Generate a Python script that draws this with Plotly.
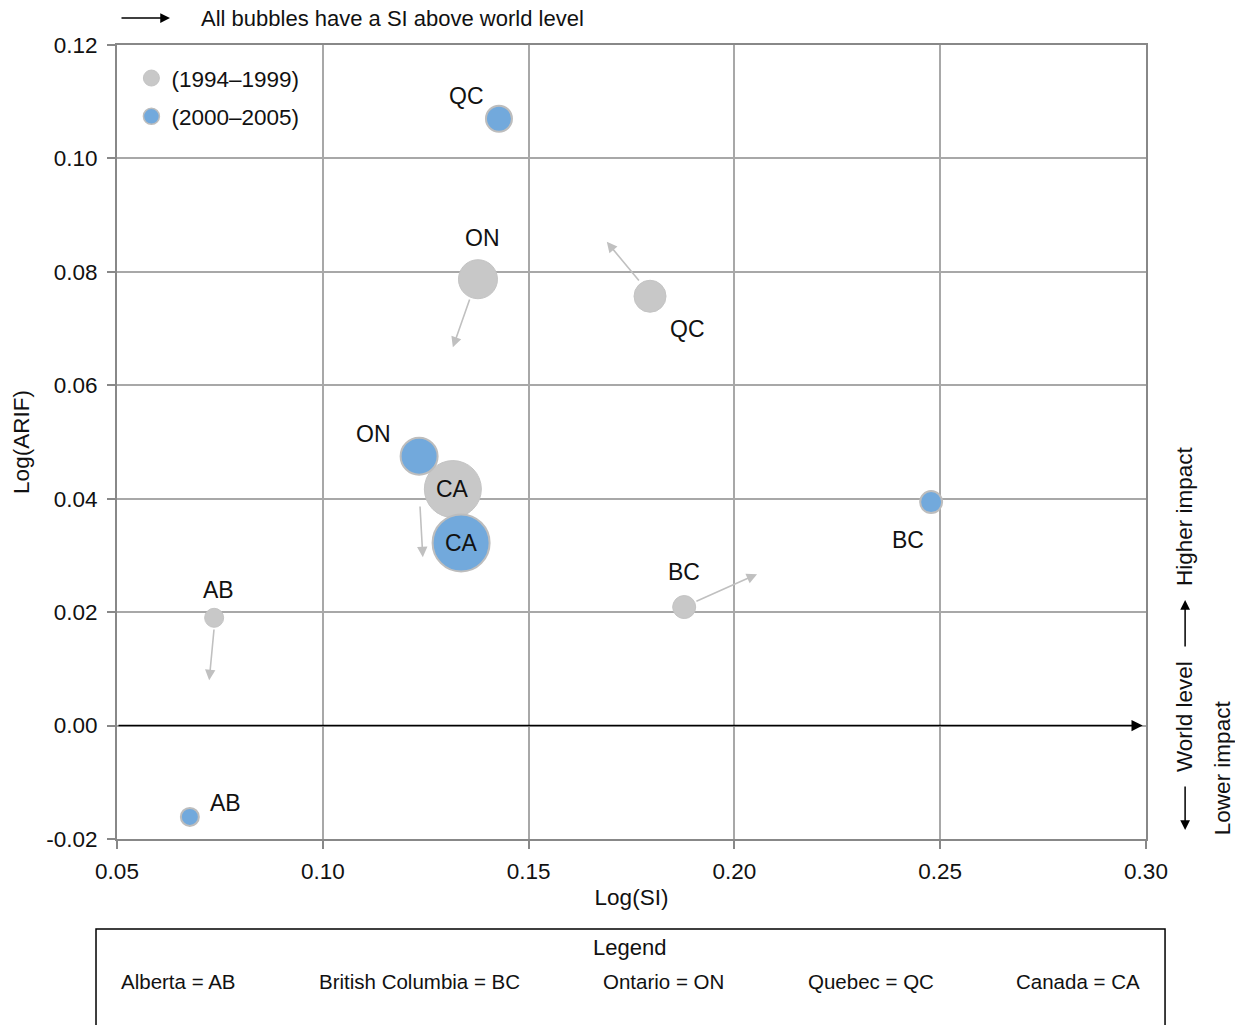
import plotly.graph_objects as go

# ---- data ----
regions = ["AB", "BC", "ON", "QC", "CA"]
si_9499 = [0.0736, 0.1878, 0.1377, 0.1795, 0.1316]
arif_9499 = [0.0190, 0.0209, 0.0787, 0.0757, 0.0417]
size_9499 = [19, 23, 39, 32, 57]

si_0005 = [0.0677, 0.2478, 0.1234, 0.1428, 0.1336]
arif_0005 = [-0.0161, 0.0394, 0.0475, 0.1070, 0.0322]
size_0005 = [18, 22, 37, 26, 57]

# trend arrows (tail -> head) for each region
arrow_tail_x = [0.0736, 0.1904, 0.1358, 0.1771, 0.1236]
arrow_tail_y = [0.0172, 0.0218, 0.0754, 0.0782, 0.0389]
arrow_head_x = [0.0724, 0.2055, 0.1316, 0.1690, 0.1243]
arrow_head_y = [0.0080, 0.0267, 0.0667, 0.0853, 0.0297]

x_ticks = [0.05, 0.10, 0.15, 0.20, 0.25, 0.30]
x_tick_labels = ["0.05", "0.10", "0.15", "0.20", "0.25", "0.30"]
y_ticks = [-0.02, 0.00, 0.02, 0.04, 0.06, 0.08, 0.10, 0.12]
y_tick_labels = ["-0.02", "0.00", "0.02", "0.04", "0.06", "0.08", "0.10", "0.12"]

legend_entries = ["Alberta = AB", "British Columbia = BC", "Ontario = ON",
                  "Quebec = QC", "Canada = CA"]

# label offsets (pixels) relative to bubble centers  (style)
off_9499 = {"AB": (4, 28), "BC": (0, 35), "ON": (5, 41), "QC": (37, -33), "CA": (0, 0)}
off_0005 = {"AB": (36, 14), "BC": (-23, -38), "ON": (-46, 22), "QC": (-32, 23), "CA": (0, 0)}

FONT = "Arial, Liberation Sans, sans-serif"
GRAY = "#c8c8c8"
BLUE = "#72a9dc"
GRID = "#a8a8a8"
TXT = "#111"

fig = go.Figure()

fig.add_trace(go.Scatter(
    x=si_9499, y=arif_9499, mode="markers", name="(1994–1999)", showlegend=False,
    marker=dict(size=size_9499, sizemode="diameter", color=GRAY,
                line=dict(color="#c4c4c4", width=1), opacity=1),
    hoverinfo="skip"))
fig.add_trace(go.Scatter(
    x=si_0005, y=arif_0005, mode="markers", name="(2000–2005)", showlegend=False,
    marker=dict(size=size_0005, sizemode="diameter", color=BLUE,
                line=dict(color="#bdbdbd", width=2), opacity=1),
    hoverinfo="skip"))
# legend-only entries (fixed symbol size)
fig.add_trace(go.Scatter(x=[None], y=[None], mode="markers", name="(1994–1999)",
                         legendgroup="a",
                         marker=dict(size=16, color=GRAY, line=dict(color="#c4c4c4", width=1))))
fig.add_trace(go.Scatter(x=[None], y=[None], mode="markers", name="(2000–2005)",
                         legendgroup="b",
                         marker=dict(size=16, color=BLUE, line=dict(color="#bdbdbd", width=1.5))))

ann = []
# region labels
for r, x, y in zip(regions, si_9499, arif_9499):
    dx, dy = off_9499[r]
    ann.append(dict(x=x, y=y, xref="x", yref="y", text=r, showarrow=False,
                    xanchor="center", yanchor="middle",
                    xshift=dx, yshift=dy, font=dict(size=23, color=TXT)))
for r, x, y in zip(regions, si_0005, arif_0005):
    dx, dy = off_0005[r]
    ann.append(dict(x=x, y=y, xref="x", yref="y", text=r, showarrow=False,
                    xanchor="center", yanchor="middle",
                    xshift=dx, yshift=dy, font=dict(size=23, color=TXT)))

# trend arrows
for tx, ty, hx, hy in zip(arrow_tail_x, arrow_tail_y, arrow_head_x, arrow_head_y):
    ann.append(dict(x=hx, y=hy, ax=tx, ay=ty, xref="x", yref="y", axref="x", ayref="y",
                    text="", showarrow=True, arrowhead=2, arrowsize=1.3,
                    arrowwidth=1.6, arrowcolor="#c0c0c0"))

# zero (world level) arrow along x axis
ann.append(dict(x=x_ticks[-1] - 0.0008, y=0, ax=x_ticks[0], ay=0, xref="x", yref="y",
                axref="x", ayref="y", text="", showarrow=True, arrowhead=2,
                arrowsize=1.4, arrowwidth=1.6, arrowcolor="#000"))

# top note
ann.append(dict(x=0.0515, y=1.034, ax=-50, ay=0, xref="paper", yref="paper",
                axref="pixel", ayref="pixel", text="", showarrow=True, arrowhead=2,
                arrowsize=1.3, arrowwidth=1.5, arrowcolor="#000"))
ann.append(dict(x=0.0797, y=1.034, xref="paper", yref="paper", xanchor="left",
                yanchor="middle", text="All bubbles have a SI above world level",
                showarrow=False, font=dict(size=22, color=TXT)))

# right side impact indicators
ann.append(dict(x=1.038, y=0.407, xref="paper", yref="paper", text="Higher impact",
                xanchor="center", yanchor="middle",
                textangle=-90, showarrow=False, font=dict(size=22.5, color=TXT)))
ann.append(dict(x=1.038, y=0.301, ax=0, ay=48, xref="paper", yref="paper",
                axref="pixel", ayref="pixel", text="", showarrow=True, arrowhead=2,
                arrowsize=1.3, arrowwidth=1.5, arrowcolor="#000"))
ann.append(dict(x=1.038, y=0.1537, xref="paper", yref="paper", text="World level",
                xanchor="center", yanchor="middle",
                textangle=-90, showarrow=False, font=dict(size=22.5, color=TXT)))
ann.append(dict(x=1.038, y=0.0113, ax=0, ay=-45, xref="paper", yref="paper",
                axref="pixel", ayref="pixel", text="", showarrow=True, arrowhead=2,
                arrowsize=1.3, arrowwidth=1.5, arrowcolor="#000"))
ann.append(dict(x=1.074, y=0.0894, xref="paper", yref="paper", text="Lower impact",
                xanchor="center", yanchor="middle",
                textangle=-90, showarrow=False, font=dict(size=22.5, color=TXT)))

# bottom legend box
ann.append(dict(x=0.498, y=-0.137, xref="paper", yref="paper", text="Legend",
                xanchor="center", yanchor="middle",
                showarrow=False, font=dict(size=22, color=TXT)))
entry_x = [0.060, 0.294, 0.531, 0.733, 0.934]
for t, ex in zip(legend_entries, entry_x):
    ann.append(dict(x=ex, y=-0.180, xref="paper", yref="paper", text=t,
                    xanchor="center", yanchor="middle",
                    showarrow=False, font=dict(size=20.5, color=TXT)))

shapes = [dict(type="rect", xref="paper", yref="paper", x0=-0.0204, x1=1.0185,
               y0=-0.245, y1=-0.1134, line=dict(color="#000", width=1.5),
               fillcolor="rgba(0,0,0,0)")]

fig.update_layout(
    width=1243, height=1025,
    margin=dict(l=109, r=105, t=37, b=194),
    paper_bgcolor="white", plot_bgcolor="white",
    font=dict(family=FONT, size=21, color=TXT),
    showlegend=True,
    legend=dict(x=0.014, y=0.985, xanchor="left", yanchor="top",
                bgcolor="rgba(0,0,0,0)", font=dict(size=22.5, color=TXT),
                itemsizing="trace", tracegroupgap=6, traceorder="grouped"),
    annotations=ann, shapes=shapes,
    xaxis=dict(range=[x_ticks[0], x_ticks[-1]], tickvals=x_ticks, ticktext=x_tick_labels,
               showgrid=True, gridcolor=GRID, gridwidth=2, zeroline=False,
               showline=True, linecolor="#888", linewidth=2, mirror=True,
               ticks="outside", ticklen=8, tickcolor="#888", tickwidth=1.5,
               ticklabelstandoff=3,
               title=dict(text="Log(SI)", font=dict(size=22.5), standoff=6),
               tickfont=dict(size=22.5)),
    yaxis=dict(range=[y_ticks[0], y_ticks[-1]], tickvals=y_ticks, ticktext=y_tick_labels,
               showgrid=True, gridcolor=GRID, gridwidth=2, zeroline=False,
               showline=True, linecolor="#888", linewidth=2, mirror=True,
               ticks="outside", ticklen=8, tickcolor="#888", tickwidth=1.5,
               ticklabelstandoff=5,
               title=dict(text="Log(ARIF)", font=dict(size=22.5), standoff=10),
               tickfont=dict(size=22.5)),
)

fig.write_html("out.html")
